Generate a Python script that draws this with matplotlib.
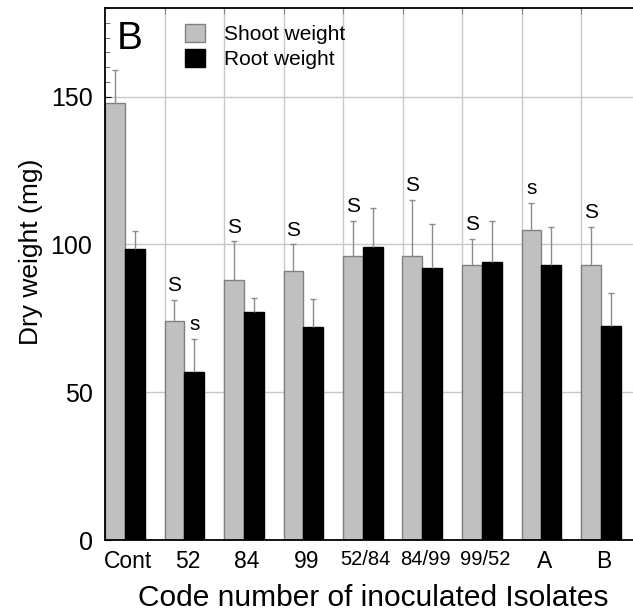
import numpy as np
import matplotlib
matplotlib.use('Agg')
import matplotlib.pyplot as plt
from matplotlib.ticker import MultipleLocator, FixedLocator
from matplotlib import font_manager

plt.rcParams['font.family'] = ['Liberation Sans', 'DejaVu Sans']

# data
isolates = ['Cont', '52', '84', '99', '52/84', '84/99', '99/52', 'A', 'B']
shoot = [148, 74, 88, 91, 96, 96, 93, 105, 93]
shoot_err = [11, 7.3, 13, 9, 12, 19, 9, 9, 13]
root = [98.5, 57, 77, 72, 99, 92, 94, 93, 72.5]
root_err = [6, 11, 5, 9.5, 13.5, 15, 14, 13, 11]
shoot_sig = ['', 'S', 'S', 'S', 'S', 'S', 'S', 's', 'S']
root_sig = ['', 's', '', '', '', '', '', '', '']

x = np.arange(len(isolates))
w = 1 / 3

fig = plt.figure(figsize=(6.33, 6.13), dpi=100)
ax = fig.add_axes([105 / 633, 73 / 613, 535.5 / 633, 532 / 613])

# grid behind the bars
for b in x[:-1] + 2 / 3:
    ax.axvline(b, color='#c8c8c8', lw=1, zorder=0)
for yv in [50, 100, 150]:
    ax.axhline(yv, color='#c8c8c8', lw=1, zorder=0)

ekw = dict(ecolor='#8c8c8c', elinewidth=1, capsize=2, capthick=1)
bs = ax.bar(x - w / 2, shoot, w, color='#c0c0c0', edgecolor='#808080', lw=1,
            yerr=[np.zeros(len(x)), shoot_err], error_kw=ekw, zorder=2,
            label='Shoot weight')
br = ax.bar(x + w / 2, root, w, color='black', edgecolor='black', lw=1,
            yerr=[np.zeros(len(x)), root_err], error_kw=ekw, zorder=2,
            label='Root weight')
# upper error only: hide the lower caps sitting on the bar tops
for cont in (bs, br):
    caps = cont.errorbar.lines[1]
    caps[0].set_visible(False)

# significance letters
for i in range(len(x)):
    if shoot_sig[i]:
        ax.text(x[i] - w / 2, shoot[i] + shoot_err[i] + 3, shoot_sig[i],
                ha='center', va='baseline', fontsize=15)
    if root_sig[i]:
        ax.text(x[i] + w / 2, root[i] + root_err[i] + 3, root_sig[i],
                ha='center', va='baseline', fontsize=15)

ax.set_xlim(-1 / 3, len(x) - 1 / 3)
ax.set_ylim(0, 180)

ax.yaxis.set_major_locator(FixedLocator([0, 50, 100, 150]))
ax.yaxis.set_minor_locator(MultipleLocator(5))
ax.tick_params(axis='y', which='major', direction='in', length=4, pad=9,
               labelsize=18)
ax.tick_params(axis='y', which='minor', direction='in', length=3.5,
               color='#555555')

ax.xaxis.set_major_locator(FixedLocator(x[:-1] + 2 / 3))
ax.xaxis.set_minor_locator(FixedLocator(x + 0.05))
ax.xaxis.set_major_formatter(plt.NullFormatter())
ax.xaxis.set_minor_formatter(plt.FixedFormatter(isolates))
ax.tick_params(axis='x', which='major', direction='in', length=4, top=True,
               bottom=False, color='#888888')
ax.tick_params(axis='x', which='minor', length=0, pad=7, labelsize=16.5)

narrow = [f.name for f in font_manager.fontManager.ttflist
          if f.name == 'Liberation Sans Narrow']
for lab in ax.xaxis.get_minorticklabels():
    if '/' in lab.get_text():
        if narrow:
            lab.set_family('Liberation Sans Narrow')
            lab.set_fontsize(17)
        else:
            lab.set_fontsize(14.5)

for s in ax.spines.values():
    s.set_linewidth(1.3)

ax.set_ylabel('Dry weight (mg)', fontsize=19)
ax.yaxis.set_label_coords(-0.116, 0.542)
ax.set_xlabel('Code number of inoculated Isolates', fontsize=21.5, labelpad=8)

ax.text(-0.13, 166, 'B', fontsize=28, ha='left', va='baseline')

ax.legend(loc='upper left', bbox_to_anchor=(0.12, 1.0), frameon=False,
          fontsize=15, handlelength=0.95, handleheight=0.95,
          handletextpad=0.95, labelspacing=0.25, borderaxespad=0.35)

fig.savefig('out.png', dpi=100)
